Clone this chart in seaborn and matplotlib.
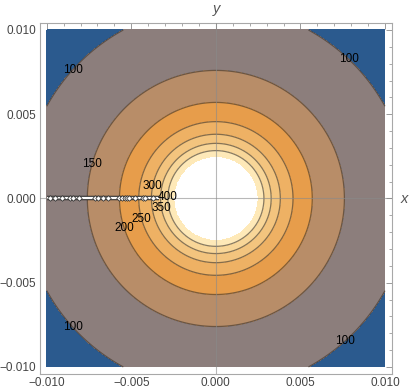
import numpy as np
import matplotlib
matplotlib.use("Agg")
import matplotlib.pyplot as plt
import seaborn as sns

# Niveles de contorno y radios
niveles = [100, 150, 200, 250, 300, 350, 400]
radios = [0.01140, 0.00760, 0.00570, 0.00456, 0.00381, 0.00327, 0.00284]
# borde exterior (esquinas) y borde de la zona blanca central
nivel_esquina, radio_esquina = 75, 0.0150
nivel_tope, radio_tope = 460, 0.00248

colores = ['#2b5a8e', '#8c7e7c', '#b88d68', '#e79d4b', '#eeb164',
           '#f3c47e', '#f8d698', '#fee9b8']

# Etiquetas de contorno: nivel y angulo (grados)
etiq_niveles = [100, 100, 100, 100, 150, 200, 250, 300, 350, 400]
etiq_angulos = [138, 46.5, 222, 312, 164.5, 198, 195.5, 168.5, 190, 178.6]

# Corte a lo largo del eje x negativo
corte_x = [-0.0100, -0.00335]
marcas_x = [-0.00982, -0.00953, -0.00908, -0.00860, -0.00845, -0.00810,
            -0.00717, -0.00698, -0.00668, -0.00639, -0.00570, -0.00554,
            -0.00540, -0.00527, -0.00515, -0.00481, -0.00432, -0.00417,
            -0.00374]

ticks = [-0.010, -0.005, 0.0, 0.005, 0.010]

sns.set_style("white")
plt.rcParams['font.family'] = ['Liberation Sans', 'DejaVu Sans']

# Campo a partir de la tabla nivel-radio (interpolacion en 1/r)
r_tab = [radio_esquina] + radios + [radio_tope]
v_tab = [nivel_esquina] + niveles + [nivel_tope]
inv_tab = 1.0 / np.array(r_tab)

g = np.linspace(-0.010, 0.010, 801)
X, Y = np.meshgrid(g, g)
R = np.hypot(X, Y)
V = np.interp(1.0 / np.maximum(R, 1e-9), inv_tab, v_tab)
V = np.where(R < radio_tope, np.nan, V)

fig = plt.figure(figsize=(4.09, 3.92), dpi=100)
ax = fig.add_axes([0.0978, 0.0467, 0.860, 0.894])

ax.contourf(X, Y, V, levels=[0] + niveles + [nivel_tope], colors=colores)
ax.contour(X, Y, V, levels=niveles, colors='#3a3128', linewidths=0.9,
           alpha=0.6)

# ejes por el origen
ax.axhline(0, color='#8a8a8a', lw=0.8, alpha=0.6, zorder=3)
ax.axvline(0, color='#8a8a8a', lw=0.8, alpha=0.6, zorder=3)

# corte
ax.plot(corte_x, [0, 0], color='#222222', lw=3.2, zorder=4,
        solid_capstyle='butt')
ax.plot(corte_x, [0, 0], color='white', lw=1.7, zorder=5,
        solid_capstyle='butt')
ax.plot(marcas_x, np.zeros(len(marcas_x)), ls='none', marker='D', ms=2.8,
        mfc='white', mec='#222222', mew=0.5, zorder=6)

# etiquetas de contorno
for nv, ang in zip(etiq_niveles, etiq_angulos):
    r = radios[niveles.index(nv)]
    a = np.deg2rad(ang)
    ax.text(r * np.cos(a), r * np.sin(a), str(nv), fontsize=8.5,
            ha='center', va='center', color='black', zorder=7)

ax.set_xlim(-0.0104, 0.0104)
ax.set_ylim(-0.0104, 0.0104)
etiquetas = [f"{t:.3f}".replace('-', '\u2212') for t in ticks]
etiquetas = ['0.000' if e == '\u22120.000' else e for e in etiquetas]
ax.set_xticks(ticks, etiquetas)
ax.set_yticks(ticks, etiquetas)
menores = np.arange(-0.010, 0.0101, 0.001)
ax.set_xticks(menores, minor=True)
ax.set_yticks(menores, minor=True)
ax.tick_params(which='both', direction='in', top=True, right=True,
               color='#9a9a9a', labelcolor='#444444', labelsize=8.5, pad=2.5)
ax.tick_params(which='major', length=4, width=0.7)
ax.tick_params(which='minor', length=2.2, width=0.6)
for s in ax.spines.values():
    s.set_color('#a8a8a8')
    s.set_linewidth(0.8)

fig.text(0.988, 0.492, 'x', fontsize=10.5, style='italic', color='#555555',
         ha='center', va='center')
fig.text(0.530, 0.977, 'y', fontsize=10.5, style='italic', color='#555555',
         ha='center', va='center')

fig.savefig('out.png', dpi=100)
